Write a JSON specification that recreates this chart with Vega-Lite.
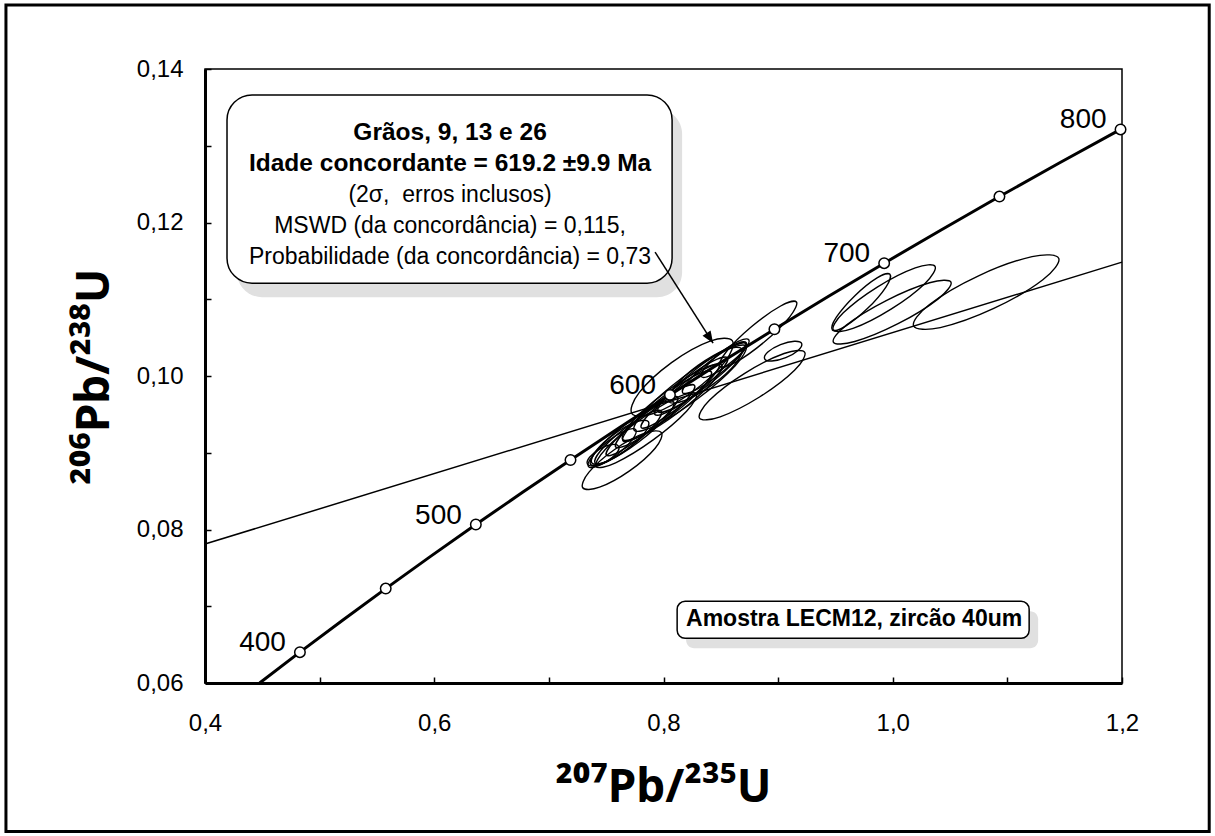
{
  "$schema": "https://vega.github.io/schema/vega-lite/v6.json",
  "width": 917,
  "height": 614,
  "autosize": {"type": "none"},
  "padding": {"left": 205, "top": 69, "right": 93, "bottom": 153},
  "background": "white",
  "config": {"font": "Liberation Sans", "view": {"stroke": "black", "strokeWidth": 1.5}},
  "datasets": {
    "frame": [{"x": 0.22635, "x2": 1.27609, "y": 0.148343, "y2": 0.040665}],
    "discordia": [{"x": 0.4, "y": 0.0781}, {"x": 1.2, "y": 0.11484}],
    "concordia": [
      {"t": 375.6, "x": 0.44764, "y": 0.06},
      {"t": 400, "x": 0.48281, "y": 0.06402},
      {"t": 425, "x": 0.51977, "y": 0.06815},
      {"t": 450, "x": 0.55766, "y": 0.0723},
      {"t": 475, "x": 0.59648, "y": 0.07647},
      {"t": 500, "x": 0.63628, "y": 0.08065},
      {"t": 525, "x": 0.67707, "y": 0.08485},
      {"t": 550, "x": 0.71887, "y": 0.08906},
      {"t": 575, "x": 0.76172, "y": 0.0933},
      {"t": 600, "x": 0.80563, "y": 0.09754},
      {"t": 625, "x": 0.85064, "y": 0.10181},
      {"t": 650, "x": 0.89677, "y": 0.10609},
      {"t": 675, "x": 0.94405, "y": 0.11039},
      {"t": 700, "x": 0.99251, "y": 0.1147},
      {"t": 725, "x": 1.04218, "y": 0.11903},
      {"t": 750, "x": 1.09308, "y": 0.12338},
      {"t": 775, "x": 1.14526, "y": 0.12775},
      {"t": 800, "x": 1.19873, "y": 0.13213}
    ],
    "markers": [
      {"t": 400, "x": 0.48281, "y": 0.06402},
      {"t": 450, "x": 0.55766, "y": 0.0723},
      {"t": 500, "x": 0.63628, "y": 0.08065},
      {"t": 550, "x": 0.71887, "y": 0.08906},
      {"t": 600, "x": 0.80563, "y": 0.09754},
      {"t": 650, "x": 0.89677, "y": 0.10609},
      {"t": 700, "x": 0.99251, "y": 0.1147},
      {"t": 750, "x": 1.09308, "y": 0.12338},
      {"t": 800, "x": 1.19873, "y": 0.13213}
    ],
    "agelabels": [
      {"label": "400", "x": 0.48281, "y": 0.06402},
      {"label": "500", "x": 0.63628, "y": 0.08065},
      {"label": "600", "x": 0.80563, "y": 0.09754},
      {"label": "700", "x": 0.99251, "y": 0.1147},
      {"label": "800", "x": 1.19873, "y": 0.13213}
    ],
    "ellipses": [
      {"e": "R1", "i": 0, "x": 0.99754, "y": 0.11325}, {"e": "R1", "i": 1, "x": 0.98632, "y": 0.11279}, {"e": "R1", "i": 2, "x": 0.96697, "y": 0.11047}, {"e": "R1", "i": 3, "x": 0.95082, "y": 0.10766},
      {"e": "R1", "i": 4, "x": 0.94733, "y": 0.106}, {"e": "R1", "i": 5, "x": 0.95854, "y": 0.10647}, {"e": "R1", "i": 6, "x": 0.97789, "y": 0.10878}, {"e": "R1", "i": 7, "x": 0.99404, "y": 0.11159},
      {"e": "R2", "i": 0, "x": 1.0369, "y": 0.11429}, {"e": "R2", "i": 1, "x": 1.01964, "y": 0.11409}, {"e": "R2", "i": 2, "x": 0.98649, "y": 0.11159}, {"e": "R2", "i": 3, "x": 0.95686, "y": 0.10823},
      {"e": "R2", "i": 4, "x": 0.9481, "y": 0.106}, {"e": "R2", "i": 5, "x": 0.96536, "y": 0.1062}, {"e": "R2", "i": 6, "x": 0.99851, "y": 0.10871}, {"e": "R2", "i": 7, "x": 1.02814, "y": 0.11206},
      {"e": "R3", "i": 0, "x": 1.0508, "y": 0.11223}, {"e": "R3", "i": 1, "x": 1.03213, "y": 0.11215}, {"e": "R3", "i": 2, "x": 0.99433, "y": 0.10983}, {"e": "R3", "i": 3, "x": 0.95955, "y": 0.10663},
      {"e": "R3", "i": 4, "x": 0.94816, "y": 0.10442}, {"e": "R3", "i": 5, "x": 0.96684, "y": 0.10449}, {"e": "R3", "i": 6, "x": 1.00463, "y": 0.10681}, {"e": "R3", "i": 7, "x": 1.03941, "y": 0.11002},
      {"e": "R4", "i": 0, "x": 1.14476, "y": 0.11534}, {"e": "R4", "i": 1, "x": 1.12154, "y": 0.11555}, {"e": "R4", "i": 2, "x": 1.07486, "y": 0.11306}, {"e": "R4", "i": 3, "x": 1.03207, "y": 0.10932},
      {"e": "R4", "i": 4, "x": 1.01824, "y": 0.10652}, {"e": "R4", "i": 5, "x": 1.04146, "y": 0.10631}, {"e": "R4", "i": 6, "x": 1.08814, "y": 0.1088}, {"e": "R4", "i": 7, "x": 1.13093, "y": 0.11254},
      {"e": "C1", "i": 0, "x": 0.79818, "y": 0.09262}, {"e": "C1", "i": 1, "x": 0.78353, "y": 0.09255}, {"e": "C1", "i": 2, "x": 0.75736, "y": 0.09042}, {"e": "C1", "i": 3, "x": 0.73501, "y": 0.08747},
      {"e": "C1", "i": 4, "x": 0.72956, "y": 0.08544}, {"e": "C1", "i": 5, "x": 0.74421, "y": 0.08551}, {"e": "C1", "i": 6, "x": 0.77038, "y": 0.08764}, {"e": "C1", "i": 7, "x": 0.79273, "y": 0.09059},
      {"e": "C2", "i": 0, "x": 0.86, "y": 0.1046}, {"e": "C2", "i": 1, "x": 0.84065, "y": 0.10455}, {"e": "C2", "i": 2, "x": 0.807, "y": 0.10175}, {"e": "C2", "i": 3, "x": 0.77875, "y": 0.09783},
      {"e": "C2", "i": 4, "x": 0.77246, "y": 0.0951}, {"e": "C2", "i": 5, "x": 0.79181, "y": 0.09515}, {"e": "C2", "i": 6, "x": 0.82546, "y": 0.09795}, {"e": "C2", "i": 7, "x": 0.85371, "y": 0.10187},
      {"e": "C3", "i": 0, "x": 0.91597, "y": 0.10965}, {"e": "C3", "i": 1, "x": 0.90222, "y": 0.10912}, {"e": "C3", "i": 2, "x": 0.87694, "y": 0.10645}, {"e": "C3", "i": 3, "x": 0.85495, "y": 0.1032},
      {"e": "C3", "i": 4, "x": 0.84913, "y": 0.10127}, {"e": "C3", "i": 5, "x": 0.86288, "y": 0.10179}, {"e": "C3", "i": 6, "x": 0.88816, "y": 0.10446}, {"e": "C3", "i": 7, "x": 0.91015, "y": 0.10771},
      {"e": "C5", "i": 0, "x": 0.92054, "y": 0.10422}, {"e": "C5", "i": 1, "x": 0.91418, "y": 0.10453}, {"e": "C5", "i": 2, "x": 0.90207, "y": 0.10408}, {"e": "C5", "i": 3, "x": 0.8913, "y": 0.10315},
      {"e": "C5", "i": 4, "x": 0.88818, "y": 0.10226}, {"e": "C5", "i": 5, "x": 0.89454, "y": 0.10195}, {"e": "C5", "i": 6, "x": 0.90665, "y": 0.10239}, {"e": "C5", "i": 7, "x": 0.91742, "y": 0.10333},
      {"e": "C6", "i": 0, "x": 0.92319, "y": 0.10309}, {"e": "C6", "i": 1, "x": 0.90518, "y": 0.10293}, {"e": "C6", "i": 2, "x": 0.87084, "y": 0.10035}, {"e": "C6", "i": 3, "x": 0.84029, "y": 0.09687},
      {"e": "C6", "i": 4, "x": 0.83143, "y": 0.09452}, {"e": "C6", "i": 5, "x": 0.84945, "y": 0.09468}, {"e": "C6", "i": 6, "x": 0.88378, "y": 0.09726}, {"e": "C6", "i": 7, "x": 0.91433, "y": 0.10074},
      {"e": "D1", "i": 0, "x": 0.77578, "y": 0.093}, {"e": "D1", "i": 1, "x": 0.7667, "y": 0.09288}, {"e": "D1", "i": 2, "x": 0.75085, "y": 0.09142}, {"e": "D1", "i": 3, "x": 0.73753, "y": 0.08947},
      {"e": "D1", "i": 4, "x": 0.73452, "y": 0.08819}, {"e": "D1", "i": 5, "x": 0.7436, "y": 0.08831}, {"e": "D1", "i": 6, "x": 0.75945, "y": 0.08977}, {"e": "D1", "i": 7, "x": 0.77278, "y": 0.09172},
      {"e": "D2", "i": 0, "x": 0.79799, "y": 0.0954}, {"e": "D2", "i": 1, "x": 0.78611, "y": 0.09507}, {"e": "D2", "i": 2, "x": 0.76428, "y": 0.09295}, {"e": "D2", "i": 3, "x": 0.74527, "y": 0.0903},
      {"e": "D2", "i": 4, "x": 0.74023, "y": 0.08866}, {"e": "D2", "i": 5, "x": 0.75211, "y": 0.08899}, {"e": "D2", "i": 6, "x": 0.77395, "y": 0.0911}, {"e": "D2", "i": 7, "x": 0.79295, "y": 0.09376},
      {"e": "D3", "i": 0, "x": 0.81253, "y": 0.09724}, {"e": "D3", "i": 1, "x": 0.80028, "y": 0.0967}, {"e": "D3", "i": 2, "x": 0.77694, "y": 0.09427}, {"e": "D3", "i": 3, "x": 0.75617, "y": 0.09137},
      {"e": "D3", "i": 4, "x": 0.75014, "y": 0.08969}, {"e": "D3", "i": 5, "x": 0.76238, "y": 0.09022}, {"e": "D3", "i": 6, "x": 0.78572, "y": 0.09265}, {"e": "D3", "i": 7, "x": 0.80649, "y": 0.09556},
      {"e": "D4", "i": 0, "x": 0.82705, "y": 0.09878}, {"e": "D4", "i": 1, "x": 0.81356, "y": 0.09826}, {"e": "D4", "i": 2, "x": 0.78784, "y": 0.09569}, {"e": "D4", "i": 3, "x": 0.76494, "y": 0.09258},
      {"e": "D4", "i": 4, "x": 0.75829, "y": 0.09075}, {"e": "D4", "i": 5, "x": 0.77178, "y": 0.09127}, {"e": "D4", "i": 6, "x": 0.79751, "y": 0.09384}, {"e": "D4", "i": 7, "x": 0.8204, "y": 0.09695},
      {"e": "D5", "i": 0, "x": 0.84165, "y": 0.10056}, {"e": "D5", "i": 1, "x": 0.82657, "y": 0.09997}, {"e": "D5", "i": 2, "x": 0.79777, "y": 0.0971}, {"e": "D5", "i": 3, "x": 0.77211, "y": 0.09362},
      {"e": "D5", "i": 4, "x": 0.76463, "y": 0.09157}, {"e": "D5", "i": 5, "x": 0.77971, "y": 0.09216}, {"e": "D5", "i": 6, "x": 0.80851, "y": 0.09504}, {"e": "D5", "i": 7, "x": 0.83417, "y": 0.09852},
      {"e": "D6", "i": 0, "x": 0.8484, "y": 0.10147}, {"e": "D6", "i": 1, "x": 0.83536, "y": 0.10085}, {"e": "D6", "i": 2, "x": 0.8101, "y": 0.09818}, {"e": "D6", "i": 3, "x": 0.78741, "y": 0.09504},
      {"e": "D6", "i": 4, "x": 0.78059, "y": 0.09327}, {"e": "D6", "i": 5, "x": 0.79362, "y": 0.0939}, {"e": "D6", "i": 6, "x": 0.81888, "y": 0.09656}, {"e": "D6", "i": 7, "x": 0.84157, "y": 0.0997},
      {"e": "D7", "i": 0, "x": 0.85571, "y": 0.10237}, {"e": "D7", "i": 1, "x": 0.84303, "y": 0.10194}, {"e": "D7", "i": 2, "x": 0.81925, "y": 0.0996}, {"e": "D7", "i": 3, "x": 0.79829, "y": 0.09672},
      {"e": "D7", "i": 4, "x": 0.79245, "y": 0.09498}, {"e": "D7", "i": 5, "x": 0.80513, "y": 0.09541}, {"e": "D7", "i": 6, "x": 0.82892, "y": 0.09775}, {"e": "D7", "i": 7, "x": 0.84987, "y": 0.10063},
      {"e": "D8", "i": 0, "x": 0.87219, "y": 0.10434}, {"e": "D8", "i": 1, "x": 0.85711, "y": 0.10375}, {"e": "D8", "i": 2, "x": 0.82831, "y": 0.10088}, {"e": "D8", "i": 3, "x": 0.80265, "y": 0.0974},
      {"e": "D8", "i": 4, "x": 0.79517, "y": 0.09535}, {"e": "D8", "i": 5, "x": 0.81025, "y": 0.09594}, {"e": "D8", "i": 6, "x": 0.83905, "y": 0.09882}, {"e": "D8", "i": 7, "x": 0.86471, "y": 0.1023},
      {"e": "D9", "i": 0, "x": 0.87165, "y": 0.10423}, {"e": "D9", "i": 1, "x": 0.86056, "y": 0.10387}, {"e": "D9", "i": 2, "x": 0.83985, "y": 0.10184}, {"e": "D9", "i": 3, "x": 0.82166, "y": 0.09933},
      {"e": "D9", "i": 4, "x": 0.81665, "y": 0.09781}, {"e": "D9", "i": 5, "x": 0.82774, "y": 0.09817}, {"e": "D9", "i": 6, "x": 0.84845, "y": 0.1002}, {"e": "D9", "i": 7, "x": 0.86664, "y": 0.10271},
      {"e": "D10", "i": 0, "x": 0.87438, "y": 0.10473}, {"e": "D10", "i": 1, "x": 0.86568, "y": 0.10454}, {"e": "D10", "i": 2, "x": 0.84999, "y": 0.10305}, {"e": "D10", "i": 3, "x": 0.8365, "y": 0.10113},
      {"e": "D10", "i": 4, "x": 0.83312, "y": 0.09992}, {"e": "D10", "i": 5, "x": 0.84182, "y": 0.10012}, {"e": "D10", "i": 6, "x": 0.85751, "y": 0.10161}, {"e": "D10", "i": 7, "x": 0.871, "y": 0.10352},
      {"e": "D11", "i": 0, "x": 0.82859, "y": 0.09769}, {"e": "D11", "i": 1, "x": 0.81142, "y": 0.09719}, {"e": "D11", "i": 2, "x": 0.77867, "y": 0.09421}, {"e": "D11", "i": 3, "x": 0.74952, "y": 0.09048},
      {"e": "D11", "i": 4, "x": 0.74105, "y": 0.08819}, {"e": "D11", "i": 5, "x": 0.75822, "y": 0.08869}, {"e": "D11", "i": 6, "x": 0.79098, "y": 0.09167}, {"e": "D11", "i": 7, "x": 0.82012, "y": 0.0954},
      {"e": "D12", "i": 0, "x": 0.76089, "y": 0.09085}, {"e": "D12", "i": 1, "x": 0.75475, "y": 0.09107}, {"e": "D12", "i": 2, "x": 0.74424, "y": 0.09047}, {"e": "D12", "i": 3, "x": 0.73551, "y": 0.08941},
      {"e": "D12", "i": 4, "x": 0.73369, "y": 0.08851}, {"e": "D12", "i": 5, "x": 0.73983, "y": 0.08829}, {"e": "D12", "i": 6, "x": 0.75034, "y": 0.08889}, {"e": "D12", "i": 7, "x": 0.75907, "y": 0.08995},
      {"e": "D13", "i": 0, "x": 0.80884, "y": 0.09663}, {"e": "D13", "i": 1, "x": 0.79414, "y": 0.09624}, {"e": "D13", "i": 2, "x": 0.76682, "y": 0.09369}, {"e": "D13", "i": 3, "x": 0.74289, "y": 0.09047},
      {"e": "D13", "i": 4, "x": 0.73636, "y": 0.08847}, {"e": "D13", "i": 5, "x": 0.75106, "y": 0.08886}, {"e": "D13", "i": 6, "x": 0.77838, "y": 0.0914}, {"e": "D13", "i": 7, "x": 0.80231, "y": 0.09462},
      {"e": "D14", "i": 0, "x": 0.8507, "y": 0.10145}, {"e": "D14", "i": 1, "x": 0.83359, "y": 0.10091}, {"e": "D14", "i": 2, "x": 0.8012, "y": 0.09784}, {"e": "D14", "i": 3, "x": 0.7725, "y": 0.09403},
      {"e": "D14", "i": 4, "x": 0.7643, "y": 0.09173}, {"e": "D14", "i": 5, "x": 0.78141, "y": 0.09227}, {"e": "D14", "i": 6, "x": 0.8138, "y": 0.09534}, {"e": "D14", "i": 7, "x": 0.84251, "y": 0.09915},
      {"e": "D15", "i": 0, "x": 0.86807, "y": 0.10356}, {"e": "D15", "i": 1, "x": 0.85441, "y": 0.10344}, {"e": "D15", "i": 2, "x": 0.83015, "y": 0.10138}, {"e": "D15", "i": 3, "x": 0.80948, "y": 0.09857},
      {"e": "D15", "i": 4, "x": 0.80453, "y": 0.09666}, {"e": "D15", "i": 5, "x": 0.81819, "y": 0.09678}, {"e": "D15", "i": 6, "x": 0.84246, "y": 0.09884}, {"e": "D15", "i": 7, "x": 0.86312, "y": 0.10165},
      {"e": "D16", "i": 0, "x": 0.87199, "y": 0.10391}, {"e": "D16", "i": 1, "x": 0.85287, "y": 0.10326}, {"e": "D16", "i": 2, "x": 0.81638, "y": 0.09977}, {"e": "D16", "i": 3, "x": 0.78389, "y": 0.09549},
      {"e": "D16", "i": 4, "x": 0.77443, "y": 0.09292}, {"e": "D16", "i": 5, "x": 0.79355, "y": 0.09358}, {"e": "D16", "i": 6, "x": 0.83004, "y": 0.09706}, {"e": "D16", "i": 7, "x": 0.86253, "y": 0.10134},
      {"e": "D17", "i": 0, "x": 0.78684, "y": 0.09406}, {"e": "D17", "i": 1, "x": 0.77598, "y": 0.09402}, {"e": "D17", "i": 2, "x": 0.757, "y": 0.09243}, {"e": "D17", "i": 3, "x": 0.74103, "y": 0.09023},
      {"e": "D17", "i": 4, "x": 0.73742, "y": 0.08869}, {"e": "D17", "i": 5, "x": 0.74828, "y": 0.08873}, {"e": "D17", "i": 6, "x": 0.76726, "y": 0.09032}, {"e": "D17", "i": 7, "x": 0.78323, "y": 0.09253}
    ],
    "box": [{"x": 0.4192, "x2": 0.8075, "y": 0.13661, "y2": 0.1121}],
    "boxbold": [
      {"x": 0.6138, "y": 0.13166, "text": "Grãos, 9, 13 e 26"},
      {"x": 0.6138, "y": 0.12762, "text": "Idade concordante = 619.2 ±9.9 Ma"}
    ],
    "boxregular": [
      {"x": 0.6138, "y": 0.12358, "text": "(2σ,\u00a0 erros inclusos)"},
      {"x": 0.6138, "y": 0.11954, "text": "MSWD (da concordância) = 0,115,"},
      {"x": 0.6138, "y": 0.1155, "text": "Probabilidade (da concordância) = 0,73"}
    ],
    "box2": [{"x": 0.8119, "x2": 1.119, "y": 0.07065, "y2": 0.06582}],
    "box2text": [{"x": 0.9663, "y": 0.0683, "text": "Amostra LECM12, zircão 40um"}],
    "arrow": [{"i": 0, "x": 0.79267, "y": 0.11614}, {"i": 1, "x": 0.84328, "y": 0.10428}],
    "arrowtip": [{"x": 0.84328, "y": 0.10428}]
  },
  "encoding": {
    "x": {
      "field": "x", "type": "quantitative",
      "scale": {"domain": [0.4, 1.2], "nice": false, "zero": false},
      "axis": {
        "title": "²⁰⁷Pb/²³⁵U",
        "values": [0.4, 0.5, 0.6, 0.7, 0.8, 0.9, 1.0, 1.1, 1.2],
        "labelExpr": "round(datum.value*10) % 2 == 0 ? replace(format(datum.value, '.1f'), '.', ',') : ''",
        "grid": false, "domainColor": "black", "domainWidth": 3,
        "tickColor": "black", "tickWidth": 1.5, "tickSize": -6,
        "labelPadding": 34, "labelFontSize": 24, "labelColor": "black", "labelFont": "Liberation Sans",
        "labelFlush": false, "labelOverlap": false,
        "titleFont": "Noto Sans", "titleFontSize": 46, "titleFontWeight": "bold", "titleColor": "black",
        "titleX": 458, "titleY": 118, "titleBaseline": "alphabetic", "titleAlign": "center"
      }
    },
    "y": {
      "field": "y", "type": "quantitative",
      "scale": {"domain": [0.06, 0.14], "nice": false, "zero": false},
      "axis": {
        "title": "²⁰⁶Pb/²³⁸U",
        "values": [0.06, 0.07, 0.08, 0.09, 0.1, 0.11, 0.12, 0.13, 0.14],
        "labelExpr": "round(datum.value*100) % 2 == 0 ? replace(format(datum.value, '.2f'), '.', ',') : ''",
        "grid": false, "domainColor": "black", "domainWidth": 3,
        "tickColor": "black", "tickWidth": 1.5, "tickSize": -6,
        "labelPadding": 28, "labelFontSize": 24, "labelColor": "black", "labelFont": "Liberation Sans",
        "labelFlush": false, "labelOverlap": false,
        "titleFont": "Noto Sans", "titleFontSize": 46, "titleFontWeight": "bold", "titleColor": "black",
        "titleX": -97, "titleY": 307, "titleAngle": 270, "titleBaseline": "alphabetic", "titleAlign": "center"
      }
    }
  },
  "layer": [
    {
      "data": {"name": "frame"},
      "mark": {"type": "rect", "fill": "white", "fillOpacity": 0, "stroke": "black", "strokeWidth": 3},
      "encoding": {"x2": {"field": "x2"}, "y2": {"field": "y2"}}
    },
    {
      "data": {"name": "discordia"},
      "mark": {"type": "line", "color": "black", "strokeWidth": 1.5},
      "encoding": {}
    },
    {
      "data": {"name": "ellipses"},
      "mark": {"type": "line", "color": "black", "strokeWidth": 1.4, "interpolate": "cardinal-closed"},
      "encoding": {"detail": {"field": "e"}, "order": {"field": "i"}}
    },
    {
      "data": {"name": "concordia"},
      "mark": {"type": "line", "color": "black", "strokeWidth": 3, "interpolate": "monotone"},
      "encoding": {"order": {"field": "t"}}
    },
    {
      "data": {"name": "markers"},
      "mark": {"type": "point", "filled": true, "fill": "white", "stroke": "black", "strokeWidth": 1.5, "size": 110, "opacity": 1},
      "encoding": {}
    },
    {
      "data": {"name": "agelabels"},
      "mark": {"type": "text", "align": "right", "baseline": "middle", "dx": -14, "dy": -9, "fontSize": 28, "font": "Liberation Sans", "color": "black"},
      "encoding": {"text": {"field": "label"}}
    },
    {
      "data": {"name": "box"},
      "mark": {"type": "rect", "fill": "#e0e0e0", "cornerRadius": 25, "xOffset": 10, "x2Offset": 10, "yOffset": 14, "y2Offset": 14},
      "encoding": {"x2": {"field": "x2"}, "y2": {"field": "y2"}}
    },
    {
      "data": {"name": "box"},
      "mark": {"type": "rect", "fill": "white", "stroke": "black", "strokeWidth": 1.5, "cornerRadius": 25},
      "encoding": {"x2": {"field": "x2"}, "y2": {"field": "y2"}}
    },
    {
      "data": {"name": "boxbold"},
      "mark": {"type": "text", "align": "center", "baseline": "middle", "fontSize": 24.5, "fontWeight": "bold", "font": "Liberation Sans", "color": "black"},
      "encoding": {"text": {"field": "text"}}
    },
    {
      "data": {"name": "boxregular"},
      "mark": {"type": "text", "align": "center", "baseline": "middle", "fontSize": 23, "font": "Liberation Sans", "color": "black"},
      "encoding": {"text": {"field": "text"}}
    },
    {
      "data": {"name": "box2"},
      "mark": {"type": "rect", "fill": "#e0e0e0", "cornerRadius": 8, "xOffset": 9, "x2Offset": 9, "yOffset": 10, "y2Offset": 10},
      "encoding": {"x2": {"field": "x2"}, "y2": {"field": "y2"}}
    },
    {
      "data": {"name": "box2"},
      "mark": {"type": "rect", "fill": "white", "stroke": "black", "strokeWidth": 1.5, "cornerRadius": 8},
      "encoding": {"x2": {"field": "x2"}, "y2": {"field": "y2"}}
    },
    {
      "data": {"name": "box2text"},
      "mark": {"type": "text", "align": "center", "baseline": "middle", "fontSize": 23, "fontWeight": "bold", "font": "Liberation Sans", "color": "black"},
      "encoding": {"text": {"field": "text"}}
    },
    {
      "data": {"name": "arrow"},
      "mark": {"type": "line", "color": "black", "strokeWidth": 1.5},
      "encoding": {"order": {"field": "i"}}
    },
    {
      "data": {"name": "arrowtip"},
      "mark": {"type": "point", "shape": "M0,0 L-0.4,1 L0.4,1 Z", "filled": true, "color": "black", "size": 576, "angle": 147, "opacity": 1},
      "encoding": {}
    }
  ]
}
